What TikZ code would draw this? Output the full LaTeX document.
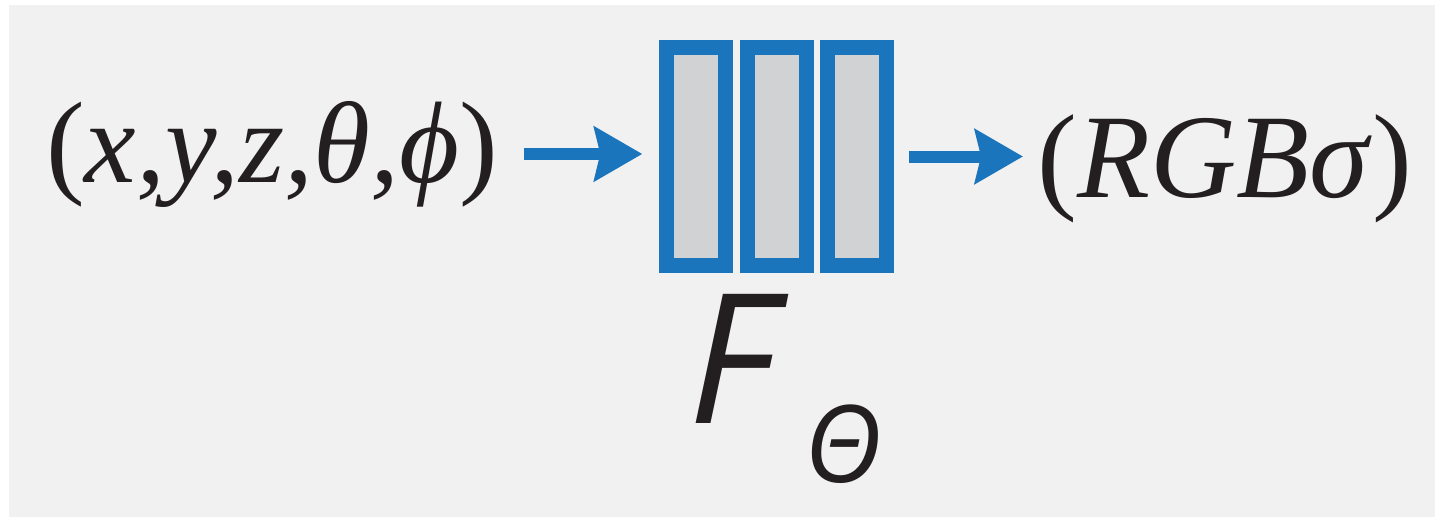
\documentclass[tikz,border=0pt]{standalone}
\usepackage{fontspec}
\setmainfont{Liberation Serif}
\setsansfont{Open Sans}
\usetikzlibrary{arrows.meta}

\definecolor{netblue}{HTML}{1B75BC}
\definecolor{layergray}{HTML}{D1D2D4}
\definecolor{bggray}{HTML}{F1F1F1}
\definecolor{inkblack}{HTML}{231F20}

\tikzset{
  layer/.style={draw=netblue, fill=layergray, line width=0.3cm, inner sep=0pt,
    minimum width=1.18cm, minimum height=4.36cm},
  flow/.style={draw=netblue, line width=0.24cm,
    -{Stealth[length=0.96cm, width=1.08cm, inset=0.12cm]}},
  formula/.style={text=inkblack, inner sep=0pt, anchor=base west,
    font=\fontsize{68}{72}\selectfont}
}

\begin{document}
\begin{tikzpicture}[x=0.02cm, y=-0.02cm]
  % The page and its grey panel
  \fill[white] (0,0) rectangle (1435,517);
  \fill[bggray] (9,5) rectangle (1435,517);
  \useasboundingbox (0,0) rectangle (1435,517);

  % The input: position and viewing direction
  \node[formula, font=\fontsize{66}{70}\selectfont] (in) at (46,182)
    {(\textit{x,y,z,θ,ϕ})};
  % The output: colour and density
  \node[formula] (out) at (1037,197) {(\textit{RGBσ})};

  % The layers of the network
  \foreach \i/\x in {1/696.3, 2/776.7, 3/857}
    \node[layer] (l\i) at (\x,156.5) {};

  % The network's name
  \node[text=inkblack, inner sep=0pt, anchor=base west] (fname) at (688,423)
    {\sffamily\itshape\fontsize{103}{110}\selectfont F\hspace{0.6cm}%
     \fontsize{61}{64}\selectfont\raisebox{-1.2cm}{Θ}};

  % Into and out of the network
  \draw[flow, shorten <=0.5cm, shorten >=0.34cm] (in.east) -- (in.east -| l1.west);
  \draw[flow, shorten <=0.3cm, shorten >=0.28cm] (l3.east) -- (l3.east -| out.west);
\end{tikzpicture}
\end{document}
